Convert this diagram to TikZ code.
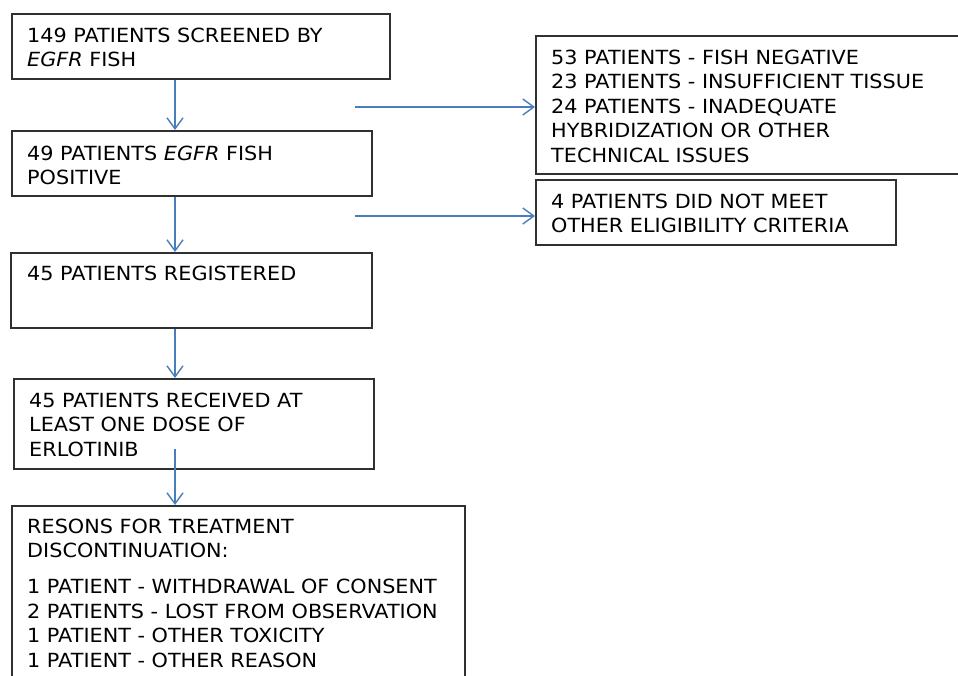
\documentclass[tikz,border=0pt]{standalone}
\usepackage{fontspec}
\setmainfont{DejaVu Sans}[FakeStretch=1.065]
\usetikzlibrary{arrows.meta}
\definecolor{arrowblue}{HTML}{4A7EBB}
\definecolor{boxline}{HTML}{303030}
\begin{document}
\begin{tikzpicture}[x=1pt,y=-1pt,
  box/.style={draw=boxline, line width=1.8pt, inner sep=0pt, anchor=north west},
  txt/.style={anchor=base west, inner sep=0pt, align=left,
              font=\fontsize{19.5}{24.5}\selectfont},
  flow/.style={draw=arrowblue, line width=1.4pt,
               -{Straight Barb[length=11pt,width=16pt,line width=1.4pt]}}]
\useasboundingbox (0,0) rectangle (958,675);
% boxes
\node[box, minimum width=378pt, minimum height=65pt] (b1) at (11,13) {};
\node[box, minimum width=360pt, minimum height=65pt] (b2) at (11,130) {};
\node[box, minimum width=361pt, minimum height=75pt] (b3) at (10,252) {};
\node[box, minimum width=360pt, minimum height=90pt] (b4) at (13,378) {};
\node[box, minimum width=453pt, minimum height=175pt] (b5) at (11,505) {};
\node[box, minimum width=430pt, minimum height=138pt] (ra) at (535,35) {};
\node[box, minimum width=360pt, minimum height=65pt] (rb) at (535,179) {};
% texts (anchored at the baseline of the last line)
\node[txt] (t1) at (27,66.5) {149 PATIENTS SCREENED BY\\\textit{EGFR} FISH};
\node[txt] (t2) at (27,184.5) {49 PATIENTS \textit{EGFR} FISH\\POSITIVE};
\node[txt] (t3) at (27,280) {45 PATIENTS REGISTERED};
\node[txt] (t4) at (29,456) {45 PATIENTS RECEIVED AT\\LEAST ONE DOSE OF\\ERLOTINIB};
\node[txt] (t5) at (27,667) {RESONS FOR TREATMENT\\DISCONTINUATION:\\[11.5pt]1 PATIENT - WITHDRAWAL OF CONSENT\\2 PATIENTS - LOST FROM OBSERVATION\\1 PATIENT - OTHER TOXICITY\\1 PATIENT - OTHER REASON};
\node[txt] (ta) at (551,162) {53 PATIENTS - FISH NEGATIVE\\23 PATIENTS - INSUFFICIENT TISSUE\\24 PATIENTS - INADEQUATE\\HYBRIDIZATION OR OTHER\\TECHNICAL ISSUES};
\node[txt] (tb) at (551,232.5) {4 PATIENTS DID NOT MEET\\OTHER ELIGIBILITY CRITERIA};
% connector ends
\coordinate (h1) at (355,107);
\coordinate (h2) at (355,216);
\coordinate (v4) at (175,449);
% connectors
\draw[flow] (b1.south -| v4) -- (b2.north -| v4);
\draw[flow] (b2.south -| v4) -- (b3.north -| v4);
\draw[flow] (b3.south -| v4) -- (b4.north -| v4);
\draw[flow] (v4) -- (b5.north -| v4);
\draw[flow] (h1) -- (ra.west |- h1);
\draw[flow] (h2) -- (rb.west |- h2);
\end{tikzpicture}
\end{document}
